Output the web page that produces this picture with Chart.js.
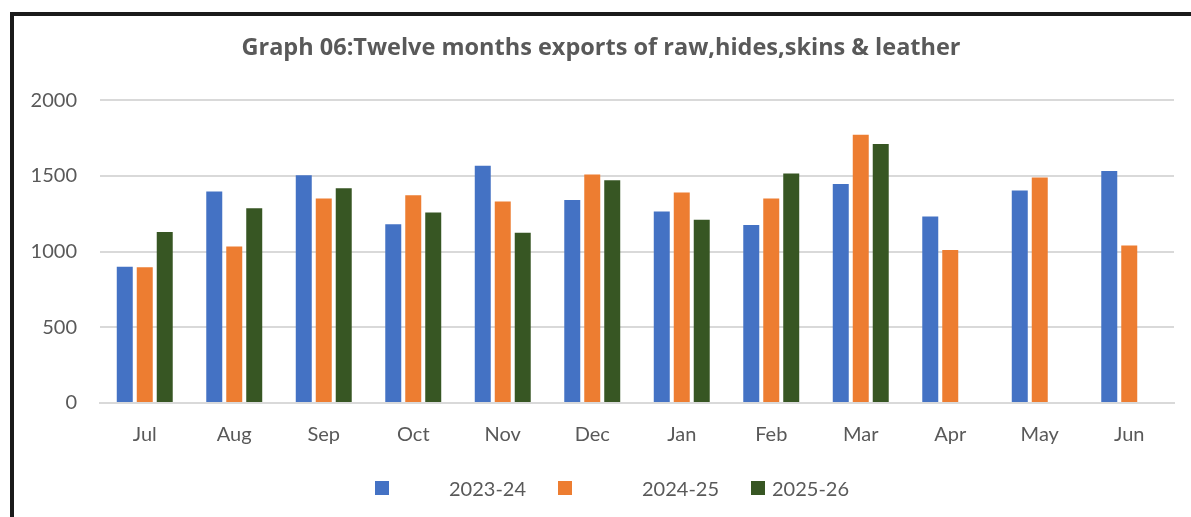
<!DOCTYPE html>
<html>
<head>
<meta charset="utf-8">
<script src="https://cdn.jsdelivr.net/npm/chart.js@4.4.0/dist/chart.umd.min.js"></script>
<style>
  body { margin: 0; background: #fff; width: 1191px; height: 517px; overflow: hidden; position: relative; font-family: Lato, "Noto Sans", sans-serif; }
  .frame { position: absolute; left: 10px; top: 12px; width: 1200px; height: 520px; border-top: 4px solid #1a1a1a; border-left: 4px solid #1a1a1a; }
  .wrap { position: absolute; left: 0; top: 0; width: 1191px; height: 517px; }
  .legend { position: absolute; top: 476px; left: 0; width: 1191px; height: 24px; }
  .legend span { position: absolute; font-size: 20px; color: #595959; line-height: 24px; }
  .legend i { position: absolute; width: 14px; height: 14px; top: 5px; }
</style>
</head>
<body>
<div class="frame"></div>
<div class="wrap"><canvas id="myChart" width="1191" height="517"></canvas></div>
<div class="legend" id="legend"></div>
<script>
// 데이터
const months = ['Jul','Aug','Sep','Oct','Nov','Dec','Jan','Feb','Mar','Apr','May','Jun'];
const y2324 = [900, 1397, 1505, 1181, 1567, 1340, 1265, 1175, 1446, 1232, 1404, 1533];
const y2425 = [896, 1034, 1351, 1373, 1331, 1510, 1391, 1351, 1771, 1010, 1490, 1041];
const y2526 = [1129, 1287, 1419, 1258, 1124, 1472, 1210, 1516, 1710, null, null, null];
const seriesNames = ['2023-24', '2024-25', '2025-26'];
const colors = ['#4472c4', '#ed7d31', '#375623'];
const yTicks = [0, 500, 1000, 1500, 2000];

const ctx = document.getElementById('myChart');
const gray = '#595959';

new Chart(ctx, {
  type: 'bar',
  data: {
    labels: months,
    datasets: [y2324, y2425, y2526].map((d, i) => ({
      label: seriesNames[i],
      data: d,
      backgroundColor: colors[i],
      categoryPercentage: 0.67,
      barPercentage: 0.8
    }))
  },
  options: {
    responsive: false,
    animation: false,
    layout: { padding: { left: 28, right: 17, top: 16, bottom: 0 } },
    plugins: {
      legend: { display: false },
      tooltip: { enabled: false },
      title: {
        display: true,
        text: 'Graph 06:Twelve months exports of raw,hides,skins & leather',
        color: gray,
        font: { family: 'Open Sans', size: 23.5, weight: 'bold', lineHeight: 1.2 },
        padding: { top: 18, bottom: 38 }
      }
    },
    scales: {
      x: {
        grid: { display: false, drawTicks: false },
        border: { color: '#d9d9d9', width: 2 },
        ticks: { color: gray, font: { family: 'Lato', size: 20 }, padding: 20 },
        afterFit: (s) => { s.height = 114; }
      },
      y: {
        min: 0, max: 2000,
        afterBuildTicks: (s) => { s.ticks = yTicks.map(v => ({ value: v })); },
        grid: { color: '#d9d9d9', lineWidth: 2, drawTicks: false },
        border: { display: false },
        ticks: { color: gray, font: { family: 'Lato', size: 20 }, padding: 23, callback: (v) => String(v) },
        afterFit: (s) => { s.width = 72; }
      }
    }
  }
});

// 범례 (html)
const legendPos = [[375, 449], [558, 642], [751, 772]];
let html = '';
seriesNames.forEach((n, i) => {
  html += `<i style="left:${legendPos[i][0]}px;background:${colors[i]}"></i>
           <span style="left:${legendPos[i][1]}px">${n}</span>`;
});
document.getElementById('legend').innerHTML = html;
</script>
</body>
</html>
